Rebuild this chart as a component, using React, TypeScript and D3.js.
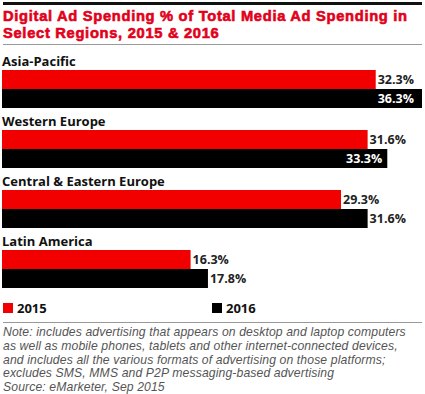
import React from 'react';
import * as d3 from 'd3';

const regions = ['Asia-Pacific', 'Western Europe', 'Central & Eastern Europe', 'Latin America'];
const values2015 = [32.3, 31.6, 29.3, 16.3];
const values2016 = [36.3, 33.3, 31.6, 17.8];
const years = ['2015', '2016'];
const titleLines = ['Digital Ad Spending % of Total Media Ad Spending in', 'Select Regions, 2015 & 2016'];
const noteLines = [
    'Note: includes advertising that appears on desktop and laptop computers',
    'as well as mobile phones, tablets and other internet-connected devices,',
    'and includes all the various formats of advertising on those platforms;',
    'excludes SMS, MMS and P2P messaging-based advertising',
    'Source: eMarketer, Sep 2015'
];

const RED = '#f20000';
const BLACK = '#000';
const TITLE_RED = '#e2001a';
const FONT = "'Open Sans', 'DejaVu Sans', sans-serif";
const TIGHT = "'Liberation Sans', Arial, sans-serif";

const width = 425;
const height = 394;

const App = () => {
    const x = d3.scaleLinear().domain([0, 36.3]).range([2, 422]);
    const y = d3.scaleBand().domain(regions).range([53, 293]);
    const barH = 19;

    const series = [values2015, values2016];
    const colors = [RED, BLACK];

    return (
        <svg width={width} height={height} style={{ position: 'absolute', left: 0, top: 0, background: '#fff' }} fontFamily={FONT}>
            <rect x={3} y={2} width={419} height={3} fill="#111" />
            {titleLines.map((t, i) => (
                <text key={t} x={3} y={21 + i * 16.6} fill={TITLE_RED} stroke={TITLE_RED} strokeWidth={0.6}
                    fontFamily={TIGHT} fontWeight={700} fontSize={14.7} letterSpacing={0.7}>{t}</text>
            ))}
            <line x1={3} x2={422} y1={44.5} y2={44.5} stroke="#999" strokeWidth={1} />

            {regions.map((r, i) => {
                const y0 = y(r) as number;
                return (
                    <g key={r}>
                        <text x={2} y={y0 + 13} fontWeight={700} fontSize={13} fill="#111">{r}</text>
                        {series.map((s, j) => {
                            const v = s[i];
                            const by = y0 + 17 + j * barH;
                            const xe = x(v);
                            const inside = xe + 38 > 420;
                            return (
                                <g key={j}>
                                    <rect x={x(0)} y={by} width={xe - x(0)} height={barH} fill={colors[j]} />
                                    <text
                                        x={inside ? xe - (xe > 410 ? 8 : 5) : xe + 2}
                                        y={by + 14}
                                        textAnchor={inside ? 'end' : 'start'}
                                        fontWeight={700}
                                        fontSize={12.5}
                                        fill={inside ? '#fff' : '#222'}
                                    >{v.toFixed(1)}%</text>
                                </g>
                            );
                        })}
                    </g>
                );
            })}

            {years.map((yr, j) => (
                <g key={yr} transform={`translate(${j === 0 ? 3 : 212},303)`}>
                    <rect width={10} height={10} fill={colors[j]} />
                    <text x={14} y={10} fontWeight={700} fontSize={13} fill="#111">{yr}</text>
                </g>
            ))}
            <line x1={3} x2={422} y1={322.5} y2={322.5} stroke="#999" strokeWidth={1} />

            {noteLines.map((t, i) => (
                <text key={i} x={3} y={336 + i * 13.8} fontFamily={TIGHT} fontStyle="italic" fontSize={12.2}
                    letterSpacing={0.12} fill="#555">{t}</text>
            ))}
        </svg>
    );
};

export default App;
